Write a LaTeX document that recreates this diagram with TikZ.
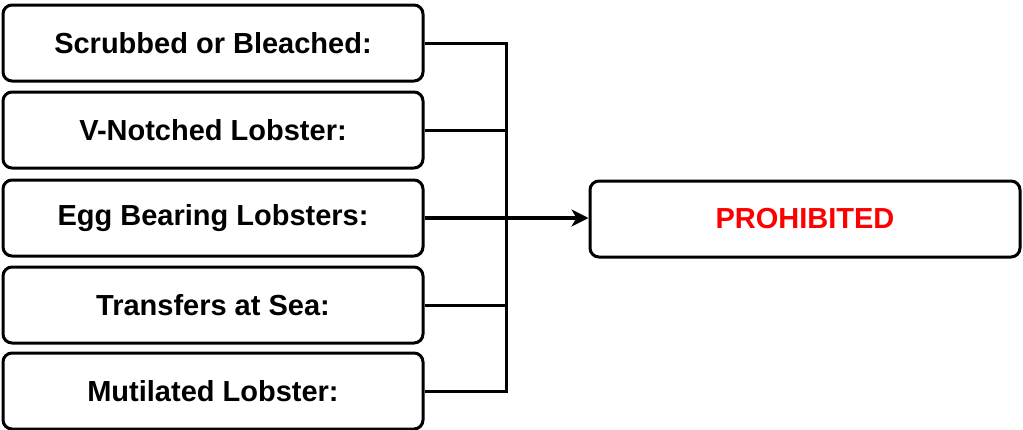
\documentclass[tikz,border=0pt]{standalone}
\usepackage{fontspec}
\setmainfont{Liberation Sans}
\usetikzlibrary{arrows.meta}

\tikzset{
  rulebox/.style={draw,line width=3pt,rounded corners=9pt,minimum width=420pt,
    minimum height=76pt,font=\fontsize{29}{34}\selectfont\bfseries,inner sep=0pt},
  link/.style={line width=3pt},
}

\begin{document}
\begin{tikzpicture}[x=1pt,y=-1pt]
  \useasboundingbox (0,0) rectangle (1023,429);

  \node[rulebox] (scrub) at (213,43) {Scrubbed or Bleached:};
  \node[rulebox] (notch) at (213,130) {V-Notched Lobster:};
  \node[rulebox] (egg) at (213,218) {Egg Bearing Lobsters:};
  \node[rulebox] (sea) at (213,305) {Transfers at Sea:};
  \node[rulebox] (mutil) at (213,391) {Mutilated Lobster:};

  \node[rulebox,minimum width=430pt,text=red] (prohib) at (805,219) {PROHIBITED};

  \coordinate (top) at (506,43);
  \coordinate (bot) at (506,391);

  \draw[link] (scrub.east) -- (top) -- (bot) -- (mutil.east);
  \draw[link] (notch.east) -- (notch.east -| top);
  \draw[link] (sea.east) -- (sea.east -| top);
  \draw[line width=4.5pt,-{Stealth[length=17pt,width=17pt,inset=5pt]}] (egg.east) -- (egg.east -| prohib.west);

\end{tikzpicture}
\end{document}
